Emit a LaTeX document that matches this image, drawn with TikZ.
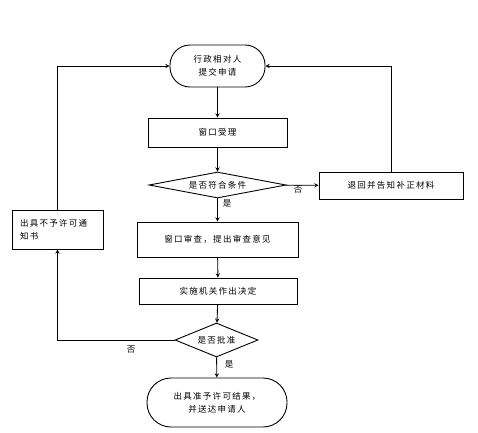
\documentclass[tikz,border=0pt]{standalone}
\usepackage{fontspec}
\newfontfamily\cjk[LetterSpace=15]{Noto Sans CJK SC}
\usetikzlibrary{shapes.geometric,arrows}
\tikzset{
    base/.style={draw, line width=0.9pt, font=\cjk\fontsize{8.5}{13}\selectfont, inner sep=0pt},
    termbox/.style={base, rectangle, rounded corners=20pt, align=center},
    procbox/.style={base, rectangle},
    choice/.style={base, diamond},
    yesno/.style={font=\cjk\fontsize{8.5}{10}\selectfont}
}
\begin{document}
\begin{tikzpicture}[x=1pt, y=-1pt, >=stealth, line width=0.9pt]
    \useasboundingbox (0,0) rectangle (478,432);

    % 主流程
    \node[termbox, minimum width=95pt, minimum height=42pt] (start) at (217.5,66) {行政相对人\\提交申请};
    \node[procbox, minimum width=139pt, minimum height=29pt] (accept) at (217.5,132.5) {窗口受理};
    \node[choice, minimum width=137pt, minimum height=26pt, aspect=5.3] (check) at (217.5,185) {是否符合条件};
    \node[procbox, minimum width=161pt, minimum height=35pt] (review) at (217.5,239.5) {窗口审查，提出审查意见};
    \node[procbox, minimum width=158pt, minimum height=26pt] (decide) at (218,291) {实施机关作出决定};
    \node[choice, minimum width=83pt, minimum height=34pt, aspect=2.4] (approve) at (216.5,340) {是否批准};
    \node[termbox, minimum width=140pt, minimum height=49pt, rounded corners=24pt] (finish) at (217,402.5) {出具准予许可结果，\\并送达申请人};

    % 旁支
    \node[procbox, minimum width=91pt, minimum height=39pt, text width=75pt, align=left] (nobox) at (57.5,229.5) {出具不予许可通\\知书};
    \node[procbox, minimum width=144pt, minimum height=27pt] (retbox) at (391,185.5) {退回并告知补正材料};

    % 连线
    \draw[->] (start) -- (accept);
    \draw[->] (accept) -- (check);
    \draw[->] (check) -- (review);
    \draw[->] (review) -- (decide);
    \draw[->] (decide) -- (approve);
    \draw[->] (approve) -- (finish);
    \draw[->] (check) -- (retbox);
    \draw[->] (retbox.north) |- (start.east);
    \draw[->] (nobox.north) |- (start.west);
    \draw[->] (approve.west) -| (nobox.south);

    % 是/否
    \node[yesno] (no1) at (298,190) {否};
    \node[yesno] (yes1) at (227,203) {是};
    \node[yesno] (no2) at (131,350) {否};
    \node[yesno] (yes2) at (229,364) {是};
\end{tikzpicture}
\end{document}
